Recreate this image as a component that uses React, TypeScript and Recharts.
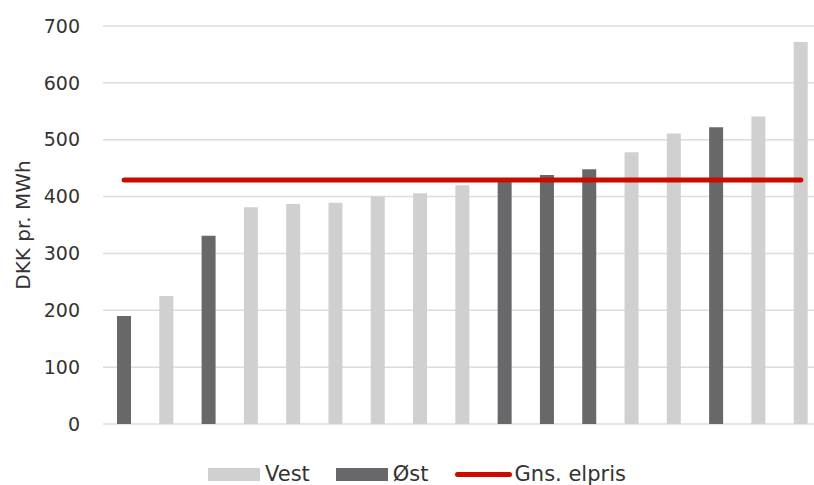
import { Bar, CartesianGrid, ComposedChart, Legend, Line, XAxis, YAxis } from 'recharts';

const FONT = '"DejaVu Sans", Verdana, sans-serif';
const VEST_COLOR = '#d0d0d0';
const OST_COLOR = '#68686a';
const AVG_COLOR = '#cc0a00';

const categories = ['1', '2', '3', '4', '5', '6', '7', '8', '9', '10', '11', '12', '13', '14', '15', '16', '17'];
const vest = [null, 225, null, 381, 387, 389, 400, 406, 420, null, null, null, 478, 511, null, 541, 672];
const ost = [190, null, 331, null, null, null, null, null, null, 428, 438, 448, null, null, 522, null, null];
const avgPrice = 429;
const yTicks = [0, 100, 200, 300, 400, 500, 600, 700];

const data = categories.map((name, i) => ({ name, vest: vest[i], ost: ost[i], avg: avgPrice }));

const legendItems = [
  { label: 'Vest', kind: 'bar', color: VEST_COLOR },
  { label: 'Øst', kind: 'bar', color: OST_COLOR },
  { label: 'Gns. elpris', kind: 'line', color: AVG_COLOR },
];

const ChartLegend = () => (
  <div style={{ display: 'flex', alignItems: 'center', paddingLeft: 208, fontFamily: FONT, fontSize: 21, color: '#333', height: 24 }}>
    {legendItems.map((item) => (
      <div key={item.label} style={{ display: 'flex', alignItems: 'center', marginRight: 26 }}>
        {item.kind === 'bar' ? (
          <span style={{ display: 'inline-block', width: 52, height: 13, background: item.color, marginRight: 5 }} />
        ) : (
          <span style={{ display: 'inline-block', width: 57, height: 5, borderRadius: 3, background: item.color, marginRight: 3 }} />
        )}
        <span>{item.label}</span>
      </div>
    ))}
  </div>
);

export default function App() {
  return (
    <div style={{ position: 'fixed', left: 0, top: 0, width: 814, height: 485, overflow: 'hidden', background: '#fff' }}>
      <ComposedChart width={822} height={485} data={data} margin={{ top: 26, right: 0, bottom: 37, left: 0 }} barSize={14}>
        <CartesianGrid vertical={false} stroke="#dcdcdc" strokeWidth={1.5} />
        <XAxis dataKey="name" hide />
        <YAxis
          width={103}
          domain={[0, 700]}
          ticks={yTicks}
          axisLine={false}
          tickLine={false}
          tickSize={0}
          tickMargin={23}
          tick={{ fill: '#333', fontSize: 19, fontFamily: FONT }}
          label={{
            value: 'DKK pr. MWh',
            angle: -90,
            position: 'insideLeft',
            dx: 18,
            style: { textAnchor: 'middle', fill: '#333', fontSize: 20, fontFamily: FONT },
          }}
        />
        <Bar dataKey="vest" name="Vest" stackId="a" fill={VEST_COLOR} isAnimationActive={false} />
        <Bar dataKey="ost" name="Øst" stackId="a" fill={OST_COLOR} isAnimationActive={false} />
        <Line
          dataKey="avg"
          name="Gns. elpris"
          stroke={AVG_COLOR}
          strokeWidth={5}
          strokeLinecap="round"
          dot={false}
          activeDot={false}
          isAnimationActive={false}
        />
        <Legend content={<ChartLegend />} wrapperStyle={{ position: 'absolute', left: 0, top: 462, width: 814 }} />
      </ComposedChart>
    </div>
  );
}
